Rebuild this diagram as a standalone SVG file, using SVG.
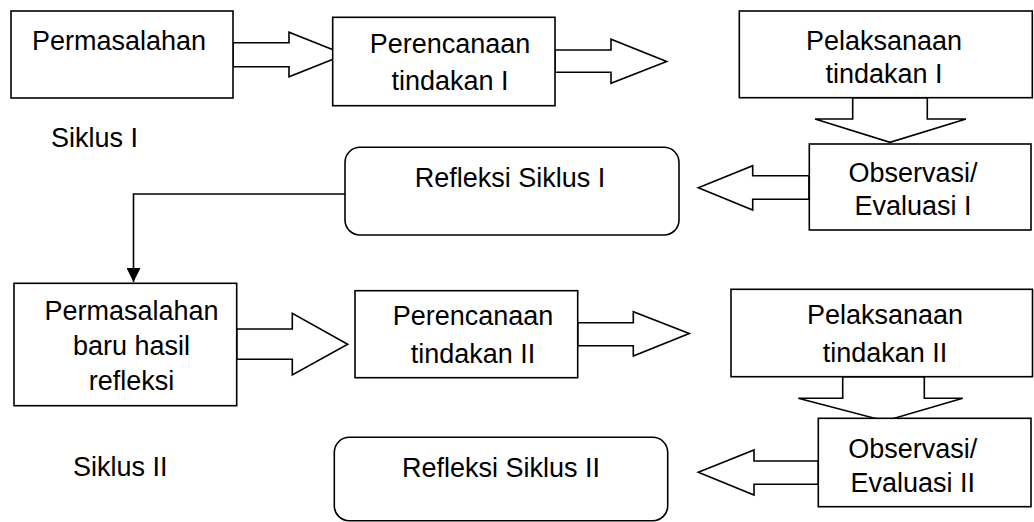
<svg xmlns="http://www.w3.org/2000/svg" width="1034" height="522" viewBox="0 0 1034 522">
<style>
.box{fill:#fff;stroke:#000;stroke-width:1.6}
.blk{fill:#fff;stroke:#000;stroke-width:1.6;stroke-linejoin:miter}
.ln{fill:none;stroke:#000;stroke-width:1.6}
text{font-family:"Liberation Sans",Arial,sans-serif;font-size:27px;fill:#000}
.c{text-anchor:middle}
</style>
<defs>
<marker id="tri" markerWidth="14" markerHeight="14" refX="14" refY="7" orient="auto" markerUnits="userSpaceOnUse">
<path d="M0,0 L14,7 L0,14 Z" fill="#000"/>
</marker>
</defs>
<rect width="1034" height="522" fill="#fff"/>
<g id="connectors">
<polygon class="blk" points="233,42.7 289,42.7 289,32.3 345,54.5 289,76.7 289,66.7 233,66.7"/>
<polygon class="blk" points="555,50 611,50 611,39.3 666.7,61.5 611,83.3 611,72.3 555,72.3"/>
<polygon class="blk" points="852.7,97.7 852.7,119 815,119 890,142.3 966,119 927.3,119 927.3,97.7"/>
<polygon class="blk" points="809,175.7 752.7,175.7 752.7,165.7 698.3,187.7 752.7,210 752.7,199.3 809,199.3"/>
<path class="ln" d="M345,194 H133.5 V282" marker-end="url(#tri)"/>
<polygon class="blk" points="236.7,329 292.3,329 292.3,313.3 347.7,344.3 292.3,375 292.3,359.3 236.7,359.3"/>
<polygon class="blk" points="577.7,322.7 633.3,322.7 633.3,311.7 689.3,333.5 633.3,356 633.3,345.7 577.7,345.7"/>
<polygon class="blk" points="842.7,376.7 842.7,398.3 798.3,398.3 885,421 962.7,398.3 924.3,398.3 924.3,376.7"/>
<polygon class="blk" points="818.3,461 754,461 754,450 698.3,472.3 754,495 754,484.3 818.3,484.3"/>
</g>
<g id="n1"><rect class="box" x="11" y="11" width="222" height="87"/><text x="32" y="50">Permasalahan</text></g>
<g id="n2"><rect class="box" x="332.7" y="17.3" width="222.3" height="88.4"/><text class="c" x="450" y="53">Perencanaan</text><text class="c" x="450" y="90">tindakan I</text></g>
<g id="n3"><rect class="box" x="739.3" y="11" width="293" height="86.7"/><text class="c" x="884" y="50">Pelaksanaan</text><text class="c" x="884" y="83">tindakan I</text></g>
<g id="n4"><rect class="box" x="809.3" y="144" width="221.7" height="86"/><text class="c" x="913" y="182">Observasi/</text><text class="c" x="913" y="215">Evaluasi I</text></g>
<g id="n5"><rect class="box" x="345" y="147.3" width="334" height="87.7" rx="15"/><text class="c" x="510" y="187">Refleksi Siklus I</text></g>
<g id="lbl1"><text x="51" y="147">Siklus I</text></g>
<g id="n6"><rect class="box" x="14" y="283.3" width="222.7" height="122.4"/><text class="c" x="131.5" y="319.5">Permasalahan</text><text class="c" x="131.5" y="355">baru hasil</text><text class="c" x="131.5" y="390">refleksi</text></g>
<g id="n7"><rect class="box" x="355" y="290.7" width="222.7" height="87"/><text class="c" x="473" y="325">Perencanaan</text><text class="c" x="473" y="362.5">tindakan II</text></g>
<g id="n8"><rect class="box" x="731" y="289.3" width="301.5" height="87.4"/><text class="c" x="885" y="323.5">Pelaksanaan</text><text class="c" x="885" y="361.5">tindakan II</text></g>
<g id="n9"><rect class="box" x="818.3" y="418.3" width="212.7" height="88.4"/><text class="c" x="912.7" y="457.5">Observasi/</text><text class="c" x="912.7" y="491.5">Evaluasi II</text></g>
<g id="n10"><rect class="box" x="334.3" y="437.3" width="333.4" height="83.5" rx="15"/><text class="c" x="501" y="477">Refleksi Siklus II</text></g>
<g id="lbl2"><text x="73" y="476">Siklus II</text></g>
</svg>
